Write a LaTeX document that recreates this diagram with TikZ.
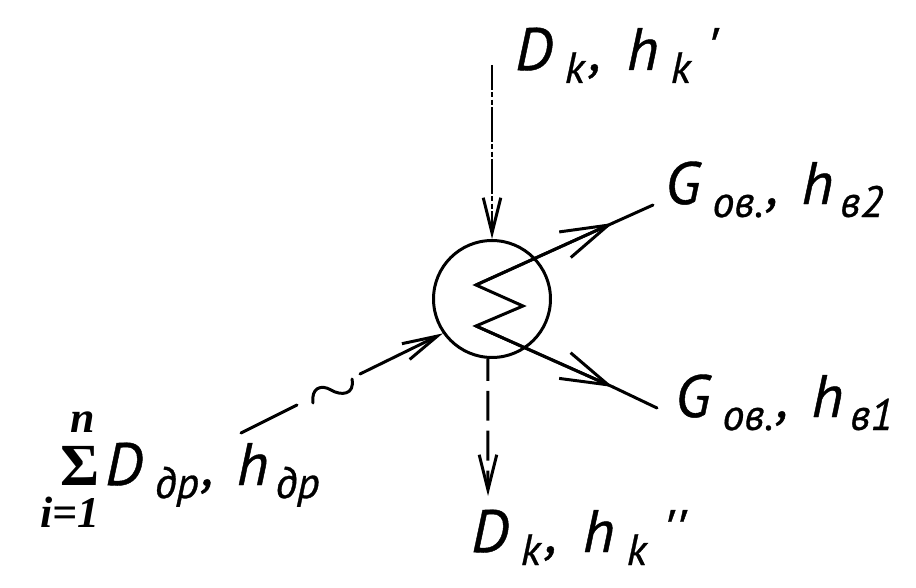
\documentclass[tikz,border=0pt]{standalone}
\usepackage{fontspec}
\setmainfont{PT Sans}
\newfontfamily\capfont[ItalicFeatures={FakeBold=0.7}]{PT Sans}
\newfontfamily\sumfont{Liberation Serif}
\usetikzlibrary{arrows.meta}
\newcommand{\bigtxt}{\fontsize{34}{34}\selectfont\capfont\itshape}
\newcommand{\lowtxt}[1]{\raisebox{-7.4pt}{\fontsize{25}{25}\selectfont\capfont\itshape #1}}
\newcommand{\commagap}{\hspace{3pt},\hspace{14.5pt}}
\newcommand{\commagapb}{\hspace{2pt},\hspace{13pt}}

\tikzset{
	flowlabel/.style={anchor=base west,inner sep=0pt,font=\bigtxt},
	sumlabel/.style={anchor=base west,inner sep=0pt,font=\fontsize{25}{25}\selectfont\sumfont\bfseries\itshape},
	flowline/.style={line width=1.7pt,line cap=round},
	smalltip/.style={flowline,-{Straight Barb[length=20pt,width=10pt,line width=1.7pt]}},
	bigtip/.style={flowline,-{Straight Barb[length=27pt,width=16pt,line width=1.7pt]}},
}

\begin{document}
\begin{tikzpicture}[x=0.02cm,y=-0.02cm]
	\useasboundingbox (0,0) rectangle (916,588);

	\node[draw,circle,line width=1.7pt,minimum size=2.34cm,inner sep=0pt] (exch) at (492,299) {};

	% coil and free line ends
	\coordinate (coil0) at (476,285);
	\coordinate (coil1) at (523,306);
	\coordinate (coil2) at (476,326);
	\coordinate (upmid) at (613,223);
	\coordinate (upend) at (653,205);
	\coordinate (lowmid) at (613,387);
	\coordinate (lowend) at (657,408);
	\coordinate (topstart) at (492,65);
	\coordinate (botend) at (488,496);
	\coordinate (leftstart) at (241,433);
	\coordinate (leftgap0) at (297,405);
	\coordinate (leftgap1) at (360,374);

	% connectors coil -> outlets
	\draw[flowline,line join=miter] (upmid) -- (coil0) -- (coil1) -- (coil2) -- (lowmid);
	\draw[bigtip] (coil0) -- (upmid);
	\draw[flowline] (upmid) -- (upend);
	\draw[bigtip] (coil2) -- (lowmid);
	\draw[flowline] (lowmid) -- (lowend);

	% connectors top, bottom, left
	\draw[smalltip,line cap=butt,dash pattern=on 19.8pt off 1.4pt on 2.8pt off 1.4pt on 2.8pt off 1.4pt,dash phase=5.7pt] (topstart) -- (exch.north);
	\draw[smalltip,line cap=butt,dash pattern=on 17pt off 5.7pt,dash phase=4.5pt] (exch.266) -- (botend);
	\draw[flowline] (leftstart) -- (leftgap0);
	\draw[smalltip] (leftgap1) -- (exch.215);

	% tilde
	\draw[flowline] (313,403) .. controls (311,388) and (321,384) .. (331,390)
		.. controls (341,396) and (355,395) .. (352,379);

	% labels
	\node[flowlabel] (topl) at (515,70) {D\hspace{7pt}\lowtxt{k}\commagap h\hspace{7pt}\lowtxt{k}\hspace{9pt}'};
	\node[flowlabel] (upl) at (665,204) {G\hspace{7pt}\lowtxt{ов.}\commagapb h\hspace{4pt}\lowtxt{в2}};
	\node[flowlabel] (lowl) at (675,417) {G\hspace{7pt}\lowtxt{ов.}\commagapb h\hspace{4pt}\lowtxt{в1}};
	\node[flowlabel] (botl) at (471,552) {D\hspace{7pt}\lowtxt{k}\commagap h\hspace{7pt}\lowtxt{k}\hspace{9pt}''};
	\node[flowlabel] (leftl) at (105,485) {D\hspace{7pt}\lowtxt{др}\commagapb h\hspace{4pt}\lowtxt{др}};
	\node[sumlabel] (sumtop) at (70,432) {n};
	\node[anchor=base west,inner sep=0pt,font=\fontsize{34}{34}\selectfont\sumfont\bfseries] (sumsign) at (60,485) {Σ};
	\node[sumlabel] (sumbot) at (40,527) {i=1};
\end{tikzpicture}
\end{document}
